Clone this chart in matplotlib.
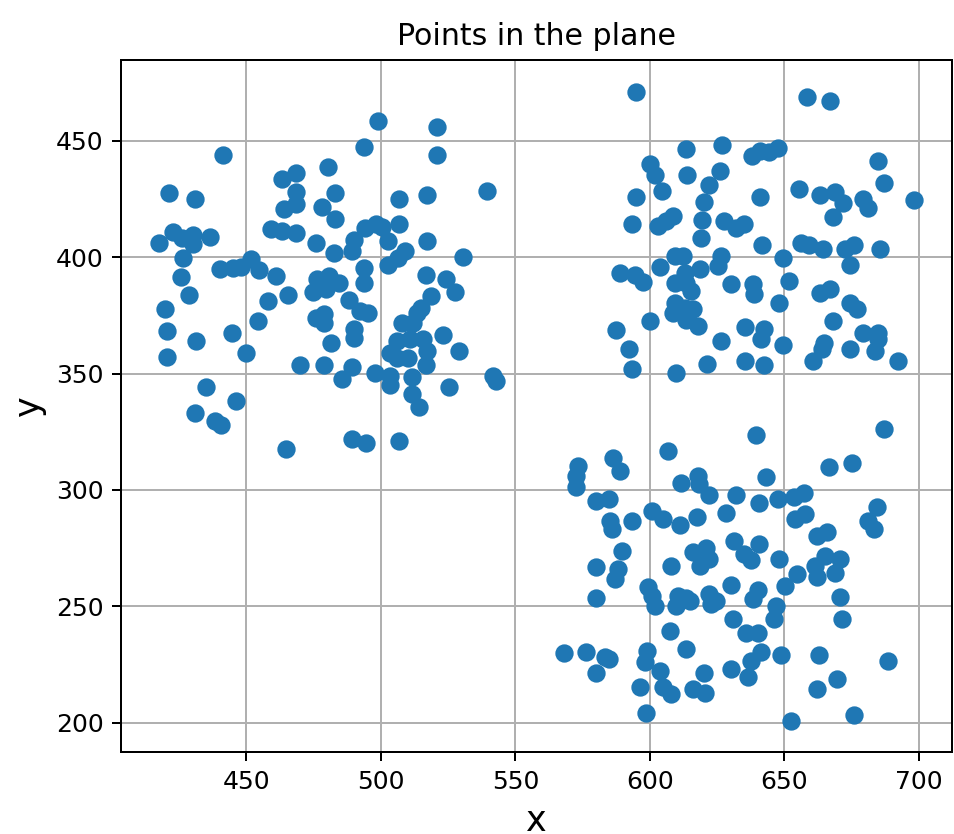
import numpy as np
import matplotlib
matplotlib.use('Agg')
import matplotlib.pyplot as plt


# ------------------
# points, one list per cluster

left_x = [441.2, 421.2, 430.8, 463.4, 468.6, 480.3, 468.6, 483.1, 464.0, 468.4,
          478.0, 483.1, 459.1, 463.4, 468.6, 475.7, 482.5, 417.4, 422.8, 425.9,
          430.2, 430.0, 436.6, 426.3, 425.5, 440.0, 444.9, 448.0, 451.7, 454.8,
          461.0, 476.2, 480.6, 484.3, 474.7, 479.5, 488.0, 498.9, 520.9, 493.6,
          520.9, 539.5, 517.3, 506.9, 506.9, 489.9, 494.2, 498.1, 500.3, 489.3,
          502.8, 509.0, 502.8, 517.3, 530.6, 493.6, 516.6, 524.3, 493.6, 506.5,
          428.6, 419.7, 420.3, 431.4, 420.3, 444.7, 449.9, 454.2, 457.9, 465.5,
          475.7, 478.8, 478.8, 481.6, 469.9, 478.8, 485.6, 435.1, 446.2, 430.8,
          438.2, 440.7, 464.7, 492.4, 495.4, 489.9, 489.9, 527.4, 518.8, 515.1,
          513.3, 507.7, 512.0, 505.9, 510.8, 515.7, 503.4, 505.9, 510.2, 517.0,
          523.1, 529.0, 516.6, 489.3, 497.9, 503.4, 503.4, 511.4, 525.3, 541.6,
          542.8, 511.4, 514.3, 489.3, 494.6, 506.9]
left_y = [443.7, 427.6, 424.8, 433.7, 436.1, 438.7, 428.0, 427.6, 420.8, 423.0,
          421.6, 416.4, 412.0, 411.1, 410.2, 406.1, 401.8, 406.1, 410.7, 408.3,
          409.7, 405.7, 408.5, 399.4, 391.4, 395.0, 395.4, 395.7, 399.0, 394.3,
          391.8, 390.4, 391.7, 388.7, 384.8, 386.1, 381.4, 458.6, 455.9, 447.3,
          443.7, 428.3, 426.5, 424.8, 414.0, 407.5, 412.3, 414.3, 412.8, 402.5,
          406.8, 402.5, 396.8, 406.8, 400.0, 395.4, 392.5, 390.4, 389.0, 399.4,
          383.7, 377.8, 368.2, 363.9, 357.1, 367.5, 359.0, 372.5, 381.1, 383.7,
          374.0, 375.4, 371.8, 363.2, 353.6, 353.6, 347.5, 344.4, 338.2, 332.9,
          329.6, 327.8, 317.5, 376.8, 376.1, 369.0, 365.4, 385.0, 383.2, 378.3,
          376.1, 371.8, 371.8, 363.9, 364.7, 364.7, 359.0, 356.8, 356.8, 359.6,
          366.4, 359.6, 353.5, 353.0, 350.4, 348.9, 344.9, 348.7, 344.2, 348.9,
          346.8, 341.1, 335.6, 322.1, 320.1, 321.1]

top_x = [594.9, 613.3, 626.8, 638.0, 640.9, 644.2, 647.6, 600.0, 601.9, 614.0,
         626.1, 622.2, 604.4, 594.9, 620.0, 640.9, 593.3, 602.9, 606.2, 608.7,
         619.4, 619.1, 627.7, 632.1, 635.1, 658.5, 667.1, 685.0, 687.2, 655.4,
         663.4, 669.0, 671.8, 668.1, 679.4, 681.3, 698.3, 641.7, 589.0, 594.5,
         597.6, 603.7, 609.3, 612.4, 626.5, 625.3, 609.3, 613.0, 618.5, 613.6,
         615.4, 609.3, 608.7, 613.0, 616.1, 613.6, 617.9, 630.2, 638.3, 638.6,
         600.0, 587.4, 592.1, 593.3, 609.6, 621.3, 626.5, 635.4, 635.4, 641.3,
         656.1, 659.1, 664.4, 672.7, 676.1, 685.6, 649.7, 674.5, 651.7, 663.4,
         667.1, 648.0, 674.5, 677.0, 668.1, 642.5, 649.7, 664.7, 664.1, 674.5,
         679.4, 685.0, 685.0, 683.8, 692.4, 660.7, 642.3]
top_y = [471.1, 446.6, 448.3, 443.6, 445.7, 445.3, 447.0, 440.0, 435.4, 435.4,
         437.1, 431.1, 428.3, 425.9, 423.5, 426.0, 414.0, 413.3, 415.4, 417.5,
         415.8, 408.0, 415.4, 412.6, 414.0, 468.7, 466.9, 441.4, 431.9, 429.3,
         426.5, 428.0, 423.3, 417.1, 425.1, 421.1, 424.7, 405.4, 393.3, 392.5,
         389.2, 395.7, 400.4, 400.4, 400.4, 396.1, 389.0, 393.3, 394.7, 389.0,
         385.4, 380.4, 376.1, 378.3, 377.5, 373.2, 370.4, 388.3, 388.3, 384.0,
         372.5, 368.5, 360.7, 352.1, 350.4, 353.9, 363.9, 370.1, 355.4, 364.7,
         406.1, 405.4, 403.6, 403.6, 405.4, 403.6, 399.7, 396.8, 389.7, 384.7,
         386.4, 380.4, 380.4, 377.8, 372.5, 369.3, 362.2, 363.2, 360.7, 360.7,
         367.5, 367.5, 364.7, 359.6, 355.4, 355.4, 353.6]

low_x = [606.8, 573.3, 572.7, 572.7, 586.5, 589.0, 580.1, 584.7, 585.3, 585.9,
         593.3, 589.6, 580.1, 588.0, 600.7, 605.0, 611.1, 611.7, 617.9, 618.3,
         622.2, 617.7, 628.4, 632.1, 631.4, 616.1, 621.0, 622.2, 618.5, 608.0,
         639.4, 687.2, 666.5, 675.1, 643.4, 640.7, 647.8, 653.6, 657.3, 654.0,
         657.6, 662.2, 665.9, 684.4, 681.1, 683.5, 635.0, 637.6, 640.5, 648.0,
         654.8, 661.6, 665.3, 670.8, 668.9, 587.1, 580.1, 599.4, 600.7, 601.9,
         610.5, 613.6, 609.9, 614.8, 622.2, 624.7, 622.8, 630.2, 630.8, 607.4,
         613.3, 568.1, 576.4, 583.4, 584.7, 580.1, 598.8, 598.2, 603.7, 596.3,
         605.0, 608.0, 616.1, 620.7, 620.3, 630.2, 598.6, 640.1, 638.2, 650.4,
         662.2, 670.8, 646.8, 646.2, 635.8, 640.1, 671.5, 641.3, 637.6, 648.7,
         662.8, 636.7, 669.6, 662.2, 688.7, 676.1, 652.4]
low_y = [316.8, 310.3, 306.0, 301.1, 313.9, 308.2, 295.3, 296.1, 286.7, 283.2,
         286.7, 273.9, 266.8, 266.0, 291.0, 287.5, 284.9, 303.2, 305.8, 302.5,
         297.9, 288.5, 290.1, 297.8, 278.2, 273.2, 275.3, 270.3, 267.5, 267.5,
         323.6, 326.1, 309.9, 311.5, 305.6, 294.3, 296.1, 296.8, 298.6, 287.5,
         289.9, 280.3, 281.8, 292.8, 286.7, 283.2, 272.5, 269.9, 276.8, 270.3,
         263.9, 267.5, 271.7, 270.3, 264.2, 261.7, 253.5, 258.2, 254.6, 250.3,
         254.4, 253.6, 250.1, 252.4, 255.3, 252.4, 251.0, 259.3, 244.6, 239.6,
         231.7, 229.9, 230.3, 228.2, 227.4, 221.3, 231.0, 226.0, 222.4, 215.6,
         215.3, 212.4, 214.6, 212.7, 221.4, 223.2, 204.3, 257.0, 253.2, 258.9,
         262.5, 253.9, 250.3, 244.6, 238.5, 238.5, 244.6, 230.3, 226.7, 229.3,
         229.3, 219.6, 218.9, 214.6, 226.5, 203.4, 201.0]

x = np.array(left_x + top_x + low_x)
y = np.array(left_y + top_y + low_y)


fig = plt.figure(figsize=(5.3, 834 / 180))

ax = fig.add_axes((0.1268, 0.0983, 0.871, 0.8297))

ax.scatter(x, y, s=40, color='C0', zorder=3)

ax.set_title('Points in the plane', fontsize=12)
ax.set_xlabel('x', fontsize=14)
ax.set_ylabel('y', fontsize=14)
ax.grid(True)
ax.set_axisbelow(True)

fig.savefig('out.png', dpi=180)
